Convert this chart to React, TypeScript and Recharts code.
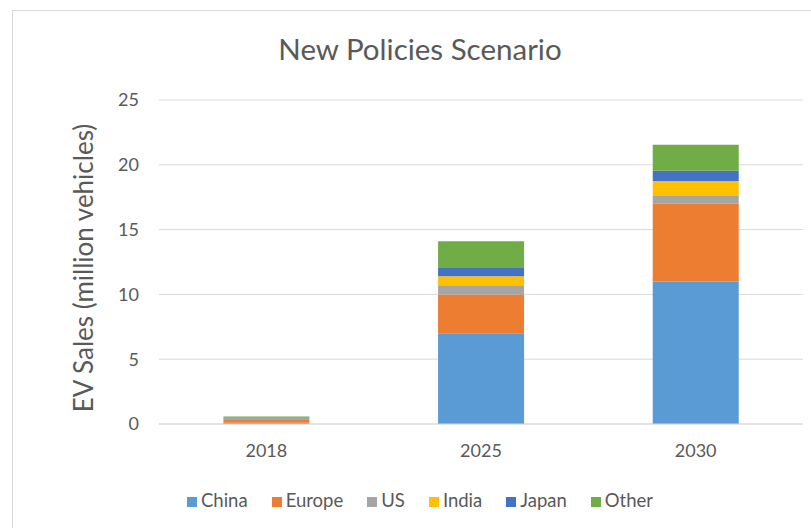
import { Bar, BarChart, CartesianGrid, Label, Legend, XAxis, YAxis } from "recharts";

const years = ["2018", "2025", "2030"];
const china = [0.1, 7.0, 11.0];
const europe = [0.2, 3.0, 6.0];
const us = [0.1, 0.7, 0.65];
const india = [0.03, 0.7, 1.1];
const japan = [0.05, 0.7, 0.8];
const other = [0.1, 2.0, 2.0];
const yTicks = [0, 5, 10, 15, 20, 25];

const data = years.map((year, i) => ({
  year,
  China: china[i],
  Europe: europe[i],
  US: us[i],
  India: india[i],
  Japan: japan[i],
  Other: other[i],
}));

const series = [
  { key: "China", color: "#5B9BD5" },
  { key: "Europe", color: "#ED7D31" },
  { key: "US", color: "#A5A5A5" },
  { key: "India", color: "#FFC000" },
  { key: "Japan", color: "#4472C4" },
  { key: "Other", color: "#70AD47" },
];

const font = "Lato, 'Open Sans', sans-serif";
const textColor = "#595959";

export default function App() {
  return (
    <div
      style={{
        position: "absolute",
        left: 0,
        top: 0,
        width: 811,
        height: 528,
        overflow: "hidden",
        background: "#fff",
        fontFamily: font,
      }}
    >
      <div
        style={{
          position: "absolute",
          left: 12,
          top: 10,
          width: 900,
          height: 600,
          border: "1px solid #d9d9d9",
        }}
      />
      <div
        style={{
          position: "absolute",
          left: 0,
          width: 840,
          top: 31,
          textAlign: "center",
          fontSize: 29.5,
          lineHeight: "36px",
          color: textColor,
        }}
      >
        New Policies Scenario
      </div>
      <div style={{ position: "absolute", left: 0, top: 0 }}>
        <BarChart
          width={811}
          height={528}
          data={data}
          margin={{ top: 100, right: 8, left: 0, bottom: 64 }}
          barCategoryGap="30%"
        >
          <CartesianGrid vertical={false} stroke="#d9d9d9" />
          <XAxis
            dataKey="year"
            height={40}
            axisLine={{ stroke: "#d9d9d9" }}
            tickLine={false}
            tickMargin={14}
            tick={{ fill: textColor, fontSize: 18, fontFamily: font }}
          />
          <YAxis
            width={159}
            domain={[0, 25]}
            ticks={yTicks}
            axisLine={false}
            tickLine={false}
            tickMargin={14}
            tick={{ fill: textColor, fontSize: 18, fontFamily: font }}
          >
            <Label
              value="EV Sales (million vehicles)"
              angle={-90}
              position="center"
              dx={4}
              dy={6}
              style={{ fill: textColor, fontSize: 26, fontFamily: font }}
            />
          </YAxis>
          <Legend
            verticalAlign="middle"
            align="center"
            iconType="square"
            iconSize={10}
            itemSorter={(item: any) => series.findIndex((s) => s.key === item.dataKey)}
            wrapperStyle={{ top: 489, left: 44, width: 776, fontFamily: font, fontSize: 18.5 }}
            formatter={(value) => (
              <span style={{ color: textColor, paddingRight: 14 }}>{value}</span>
            )}
          />
          {series.map((s) => (
            <Bar
              key={s.key}
              dataKey={s.key}
              stackId="a"
              fill={s.color}
              isAnimationActive={false}
            />
          ))}
        </BarChart>
      </div>
    </div>
  );
}
